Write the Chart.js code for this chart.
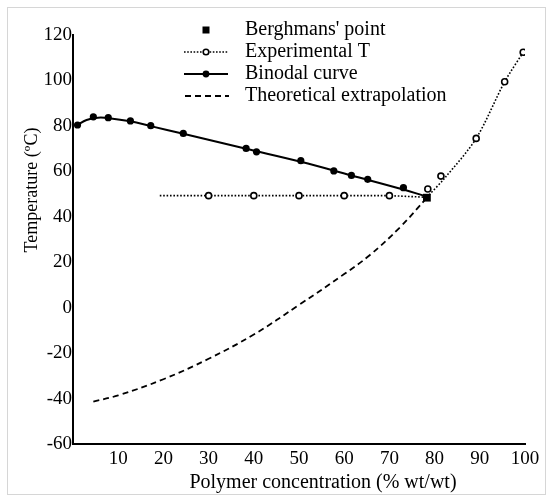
<!DOCTYPE html>
<html>
<head>
<meta charset="utf-8">
<script src="https://cdn.jsdelivr.net/npm/chart.js@4/dist/chart.umd.min.js"></script>
<style>
  html, body { margin: 0; padding: 0; background: #fff; }
  #c { display: block; }
</style>
</head>
<body>
<canvas id="c" width="553" height="502"></canvas>
<script>
// Binodal (cloud point) measurements, polymer concentration % wt/wt vs temperature °C
const binodalConc = [1.0, 4.5, 7.8, 12.7, 17.2, 24.4, 38.3, 40.6, 50.4, 57.7, 61.6, 65.2, 73.1];
const binodalTemp = [80.4, 84.0, 83.6, 82.2, 80.1, 76.7, 70.1, 68.6, 64.7, 60.2, 58.2, 56.5, 52.8];

// Binodal curve drawn through the measurements
const binodalCurveConc = [0.9, 3, 5.5, 8, 12.7, 17.2, 24.4, 38.3, 50.4, 61.6, 73.1, 77.6];
const binodalCurveTemp = [80.3, 82.6, 83.6, 83.4, 82.0, 79.9, 76.5, 69.9, 64.2, 58.2, 52.0, 49.3];

// Experimental T measurements
const expConc = [30, 40, 50, 60, 70, 78.5, 81.4, 89.2, 95.5, 99.6];
const expTemp = [49.3, 49.3, 49.3, 49.3, 49.3, 52.2, 57.9, 74.5, 99.4, 112.4];

// Experimental T trace: plateau from 19.2 % to Berghmans' point, then the rising branch
const plateauConc = [19.2, 30, 40, 50, 60, 70, 78.3];
const plateauTemp = [49.3, 49.3, 49.3, 49.3, 49.3, 49.3, 48.6];
const risingConc = [78.3, 82.4, 89.2, 95.5, 99.8];
const risingTemp = [48.6, 57.4, 74.5, 99.4, 113.0];

// Theoretical extrapolation below Berghmans' point
const theoConc = [4.5, 10, 20, 30, 40, 50, 60, 65.7, 72.4, 78.3];
const theoTemp = [-41.3, -38.6, -31.5, -22.5, -11.8, 1.2, 14.8, 23.2, 35.5, 48.4];

// Berghmans' point
const berghmansConc = [78.3];
const berghmansTemp = [48.4];

const xTickValues = [10, 20, 30, 40, 50, 60, 70, 80, 90, 100];
const yTickValues = [-60, -40, -20, 0, 20, 40, 60, 80, 100, 120];

const legendNames = ["Berghmans' point", "Experimental T", "Binodal curve", "Theoretical extrapolation"];

const SERIF = "'Liberation Serif', 'Times New Roman', serif";

const pts = (xs, ys) => xs.map((x, i) => ({ x: x, y: ys[i] }));

// Small legend samples: a line segment with its marker in the middle
function sample(kind) {
  const cv = document.createElement('canvas');
  cv.width = 46; cv.height = 12;
  const g = cv.getContext('2d');
  const cy = 6;
  g.strokeStyle = '#000'; g.fillStyle = '#000';
  if (kind === 'square') {
    g.fillRect(23 - 3.5, cy - 3.5, 7, 7);
  } else if (kind === 'dotted') {
    g.lineWidth = 1.6; g.setLineDash([1.6, 1.6]);
    g.beginPath(); g.moveTo(1, cy); g.lineTo(45, cy); g.stroke();
    g.setLineDash([]);
    g.fillStyle = '#fff'; g.lineWidth = 1.6;
    g.beginPath(); g.arc(23, cy, 2.8, 0, Math.PI * 2); g.fill(); g.stroke();
  } else if (kind === 'solid') {
    g.lineWidth = 2;
    g.beginPath(); g.moveTo(1, cy); g.lineTo(45, cy); g.stroke();
    g.beginPath(); g.arc(23, cy, 3.4, 0, Math.PI * 2); g.fill();
  } else {
    g.lineWidth = 1.8; g.setLineDash([6, 4]);
    g.beginPath(); g.moveTo(2, cy); g.lineTo(46, cy); g.stroke();
  }
  return cv;
}
const legendSamples = [sample('square'), sample('dotted'), sample('solid'), sample('dashed')];

// Places the legend block and draws the frame and axis titles
const decorations = {
  id: 'decorations',
  afterLayout(chart) {
    const lg = chart.legend;
    if (lg) {
      const w = lg.width, h = lg.height;
      lg.left = 175; lg.top = 18;
      lg.right = lg.left + w; lg.bottom = lg.top + h;
    }
  },
  beforeDraw(chart) {
    const ctx = chart.ctx;
    ctx.save();
    ctx.fillStyle = '#fff';
    ctx.fillRect(0, 0, chart.width, chart.height);
    ctx.strokeStyle = '#d6d6d6';
    ctx.lineWidth = 1;
    ctx.strokeRect(7.5, 7.5, 538, 487);
    ctx.restore();
  },
  afterDraw(chart) {
    const ctx = chart.ctx;
    ctx.save();
    ctx.fillStyle = '#000';
    ctx.textAlign = 'center';
    ctx.textBaseline = 'middle';
    ctx.font = '20px ' + SERIF;
    ctx.fillText('Polymer concentration (% wt/wt)', 323, 483);
    ctx.font = '18px ' + SERIF;
    ctx.translate(32, 190);
    ctx.rotate(-Math.PI / 2);
    ctx.fillText('Temperature (\u00BAC)', 0, 0);
    ctx.restore();
  }
};

const smoothLine = (xs, ys, extra) => Object.assign({
  data: pts(xs, ys),
  showLine: true,
  tension: 0.4,
  borderColor: '#000',
  pointRadius: 0
}, extra);

new Chart(document.getElementById('c'), {
  type: 'scatter',
  data: {
    datasets: [
      {
        label: legendNames[0],
        data: pts(berghmansConc, berghmansTemp),
        pointStyle: 'rect',
        pointRadius: 5.5,
        backgroundColor: '#000',
        borderColor: '#000',
        borderWidth: 0,
        showLine: false
      },
      {
        label: legendNames[2],
        data: pts(binodalConc, binodalTemp),
        showLine: false,
        backgroundColor: '#000',
        borderColor: '#000',
        pointRadius: 3.6,
        pointBorderWidth: 0
      },
      {
        label: legendNames[1],
        data: pts(expConc, expTemp),
        showLine: false,
        pointStyle: 'circle',
        pointRadius: 3,
        pointBorderWidth: 1.6,
        borderColor: '#000',
        backgroundColor: '#fff'
      },
      smoothLine(binodalCurveConc, binodalCurveTemp, { label: 'binodal line', borderWidth: 2 }),
      smoothLine(plateauConc, plateauTemp, { label: 'plateau', tension: 0, borderWidth: 1.6, borderDash: [1.6, 1.8] }),
      smoothLine(risingConc, risingTemp, { label: 'rising', tension: 0.3, borderWidth: 1.6, borderDash: [1.6, 1.8] }),
      smoothLine(theoConc, theoTemp, { label: legendNames[3], borderWidth: 1.8, borderDash: [6, 4] })
    ]
  },
  options: {
    responsive: false,
    animation: false,
    devicePixelRatio: 1,
    layout: { padding: { top: 35, right: 28, bottom: 0, left: 0 } },
    plugins: {
      tooltip: { enabled: false },
      legend: {
        display: true,
        position: 'chartArea',
        align: 'start',
        labels: {
          color: '#000',
          font: { family: SERIF, size: 20 },
          usePointStyle: true,
          pointStyleWidth: 58,
          padding: 2,
          generateLabels: () => legendNames.map((t, i) => ({
            text: t,
            pointStyle: legendSamples[i],
            fillStyle: '#000',
            strokeStyle: '#000',
            lineWidth: 0,
            hidden: false,
            datasetIndex: i
          }))
        }
      }
    },
    scales: {
      x: {
        type: 'linear',
        min: 0,
        max: 100,
        afterFit: (s) => { s.height = 58; },
        afterBuildTicks: (s) => { s.ticks = xTickValues.map(v => ({ value: v })); },
        grid: { display: false, drawTicks: false },
        border: { display: true, color: '#000', width: 2 },
        ticks: {
          color: '#000',
          padding: 4,
          maxRotation: 0,
          autoSkip: false,
          font: { family: SERIF, size: 19 }
        }
      },
      y: {
        type: 'linear',
        min: -60,
        max: 120,
        afterFit: (s) => { s.width = 73; },
        afterBuildTicks: (s) => { s.ticks = yTickValues.map(v => ({ value: v })); },
        grid: { display: false, drawTicks: false },
        border: { display: true, color: '#000', width: 2 },
        ticks: {
          color: '#000',
          padding: 1,
          autoSkip: false,
          font: { family: SERIF, size: 19 }
        }
      }
    }
  },
  plugins: [decorations]
});
</script>
</body>
</html>
